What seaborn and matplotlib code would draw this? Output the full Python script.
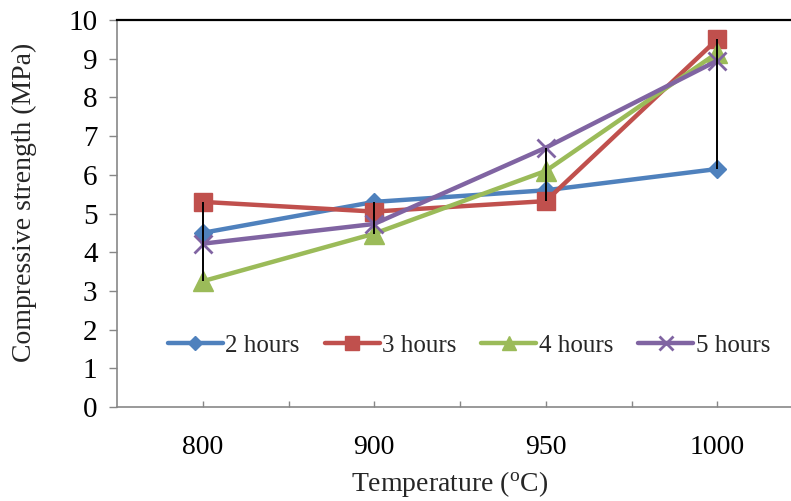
import matplotlib
matplotlib.use("Agg")
import matplotlib.pyplot as plt
import seaborn as sns
import pandas as pd

# Data
temperatures = ["800", "900", "950", "1000"]
series_names = ["2 hours", "3 hours", "4 hours", "5 hours"]
strength_2h = [4.50, 5.30, 5.60, 6.15]
strength_3h = [5.30, 5.05, 5.32, 9.50]
strength_4h = [3.25, 4.48, 6.10, 9.15]
strength_5h = [4.22, 4.73, 6.70, 8.95]

colors = ["#4F81BD", "#C0504D", "#9BBB59", "#8064A2"]
markers = ["D", "s", "^", "x"]
marker_sizes = [9, 13, 14, 13]

sns.set_theme(style="white")
plt.rcParams.update({
    "font.family": ["Liberation Serif", "DejaVu Serif"],
    "mathtext.fontset": "custom",
    "mathtext.rm": "Liberation Serif",
})

df = pd.DataFrame({
    "temperature": temperatures * 4,
    "strength": strength_2h + strength_3h + strength_4h + strength_5h,
    "series": [s for s in series_names for _ in temperatures],
})

fig = plt.figure(figsize=(7.91, 5.01), dpi=100)
ax = fig.add_axes([117 / 791, 94 / 501, 686 / 791, 387 / 501])

for name, color, marker, ms in zip(series_names, colors, markers, marker_sizes):
    sub = df[df["series"] == name]
    sns.lineplot(
        data=sub, x="temperature", y="strength", ax=ax,
        color=color, linewidth=3.2, marker=marker, markersize=ms,
        markerfacecolor=color, markeredgecolor=color,
        markeredgewidth=2 if marker == "x" else 1,
        label=name, sort=False, legend=False,
    )

# high-low lines between the series at each temperature
wide = df.pivot(index="temperature", columns="series", values="strength").loc[temperatures]
ax.vlines(temperatures, wide.min(axis=1), wide.max(axis=1), color="black", lw=1.4, zorder=10)

ax.set_xlim(-0.5, 3.5)
ax.set_ylim(0, 10)
ax.set_yticks(range(0, 11))
ax.set_xticks([0.5, 1.5, 2.5], minor=True)

axis_gray = "#878787"
for side in ["left", "bottom"]:
    ax.spines[side].set_color(axis_gray)
    ax.spines[side].set_linewidth(1.2)
ax.spines["top"].set_color("black")
ax.spines["top"].set_linewidth(1.6)
ax.spines["right"].set_visible(False)

ax.tick_params(axis="y", which="major", left=True, direction="out", length=6,
               width=1, color=axis_gray, pad=8, labelsize=21, labelcolor="black")
ax.tick_params(axis="x", which="both", bottom=True, direction="in", length=4,
               width=1, color=axis_gray, pad=20, labelsize=20, labelcolor="black")

ax.set_xlabel(r"Temperature ($\mathregular{^o}$C)", fontsize=20)
ax.set_ylabel("Compressive strength (MPa)", fontsize=20)
ax.xaxis.set_label_coords(0.484, -0.16)
ax.yaxis.set_label_coords(-0.117, 0.53)

ax.legend(loc="center", bbox_to_anchor=(0.513, 0.158), ncol=4, frameon=False,
          fontsize=18, handlelength=2.2, handletextpad=0.1, columnspacing=1.0,
          markerscale=0.75, borderaxespad=0)

fig.savefig("out.png", dpi=100, facecolor="white")
